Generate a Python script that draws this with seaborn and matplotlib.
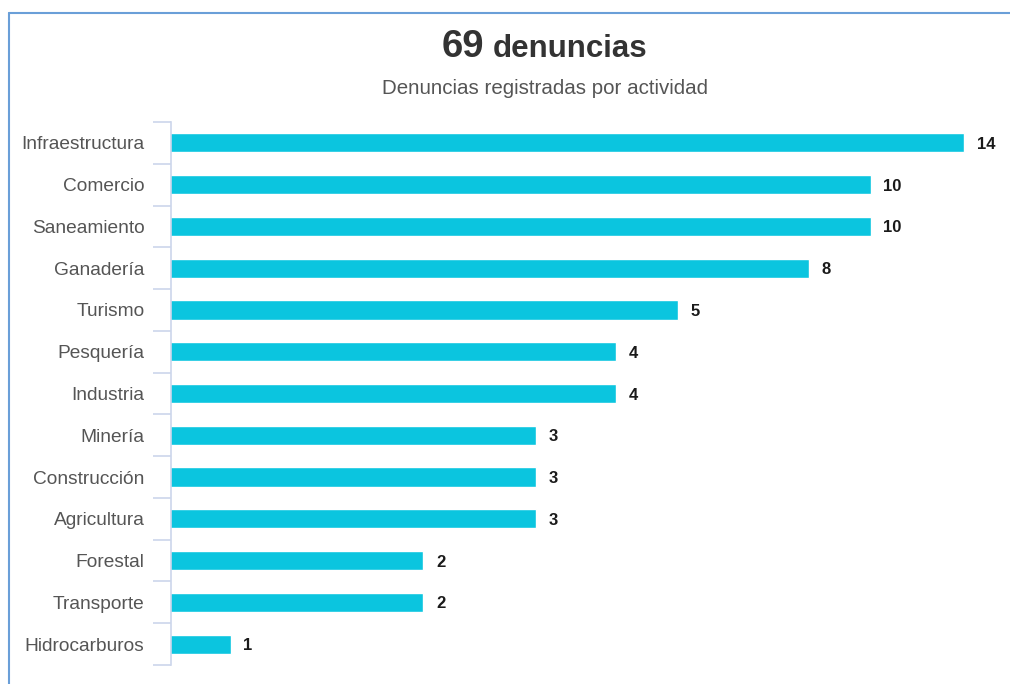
import matplotlib
matplotlib.use("Agg")
import matplotlib.pyplot as plt
from matplotlib.lines import Line2D
from matplotlib.ticker import FixedLocator, NullLocator
import pandas as pd
import seaborn as sns

actividades = ["Infraestructura", "Comercio", "Saneamiento", "Ganadería", "Turismo",
               "Pesquería", "Industria", "Minería", "Construcción", "Agricultura",
               "Forestal", "Transporte", "Hidrocarburos"]
denuncias = [14, 10, 10, 8, 5, 4, 4, 3, 3, 3, 2, 2, 1]
total = 69

BAR = "#0bc5df"
AXIS = "#ccd6eb"
FRAME = "#6a9fd8"

sns.set_style("white")
plt.rcParams["font.family"] = ["Liberation Sans", "DejaVu Sans"]

df = pd.DataFrame({"actividad": actividades, "denuncias": denuncias})

fig = plt.figure(figsize=(10.10, 6.84), dpi=100)
ax = fig.add_axes([171 / 1010, 1 - 665 / 684, (995 - 171) / 1010, (665 - 122) / 684])

sns.barplot(data=df, x="denuncias", y="actividad", color=BAR, saturation=1,
            width=0.46, ax=ax)
# eje x en escala logaritmica (como en el original)
ax.set_xscale("log", nonpositive="clip")
ax.set_xlim(0.806, 15.65)
ax.set_ylim(len(actividades) - 0.5, -0.5)

# etiquetas de valor
labels = ax.bar_label(ax.containers[0], padding=9, fontsize=12, fontweight="bold",
                      color="#1a1a1a")
for t in labels:
    t.set_verticalalignment("center_baseline")

# ejes estilo highcharts
for s in ["top", "right", "bottom"]:
    ax.spines[s].set_visible(False)
ax.spines["left"].set_color(AXIS)
ax.spines["left"].set_linewidth(1.2)
ax.xaxis.set_major_locator(NullLocator())
ax.xaxis.set_minor_locator(NullLocator())
ax.set_xlabel("")
ax.set_ylabel("")
ax.yaxis.set_minor_locator(FixedLocator([i - 0.5 for i in range(len(actividades) + 1)]))
ax.tick_params(axis="y", which="major", left=True, length=0, pad=19,
               labelsize=13.8, labelcolor="#555555")
ax.tick_params(axis="y", which="minor", left=True, length=13, width=1.2, color=AXIS)
ax.grid(False)

# titulo
fig.text(484 / 1010, 1 - 57 / 684, str(total), ha="right", va="baseline",
         fontsize=27.5, fontweight="bold", color="#333333")
fig.text(493 / 1010, 1 - 57 / 684, "denuncias", ha="left", va="baseline",
         fontsize=22.5, fontweight="bold", color="#333333")
fig.text(545 / 1010, 1 - 89 / 684, "Denuncias registradas por actividad",
         ha="center", va="center", fontsize=14.8, color="#555555")

# marco azul
fig.add_artist(Line2D([8.5 / 1010, 8.5 / 1010], [0, 1 - 13 / 684], color=FRAME, lw=1.5))
fig.add_artist(Line2D([8.5 / 1010, 1], [1 - 13 / 684, 1 - 13 / 684], color=FRAME, lw=1.5))

fig.savefig("out.png", dpi=100)
